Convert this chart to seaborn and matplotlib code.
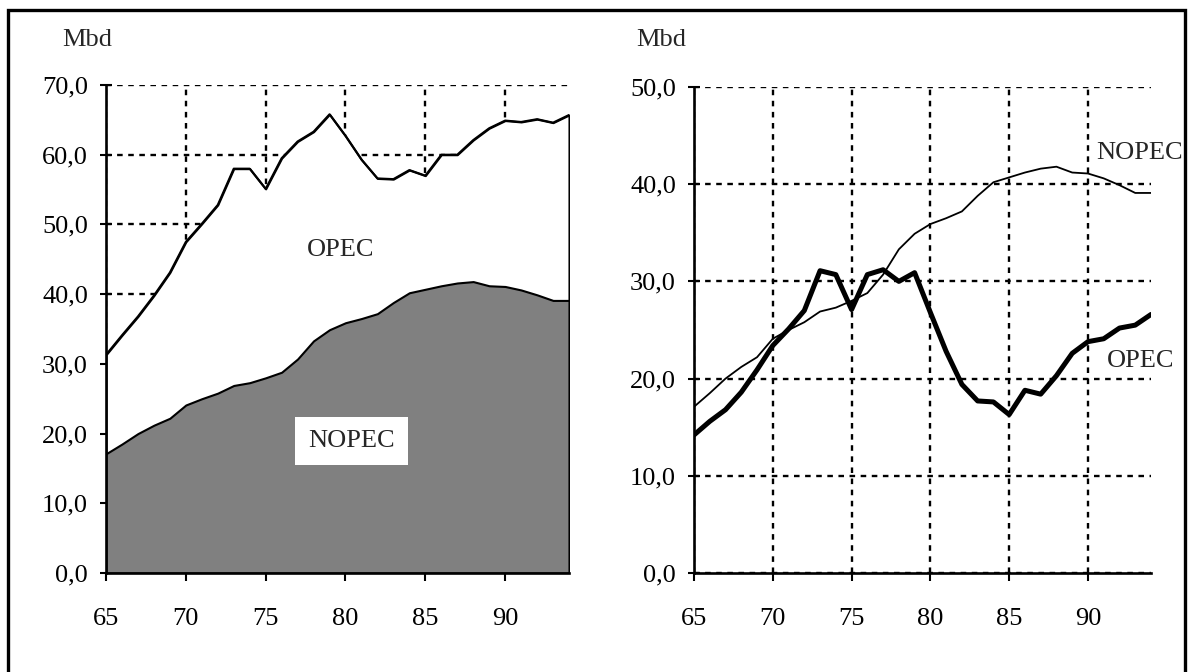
import os
import numpy as np
import pandas as pd
import matplotlib
matplotlib.use("Agg")
import matplotlib.pyplot as plt
import matplotlib.patches as mpatches
from matplotlib import font_manager
from matplotlib.ticker import FuncFormatter
import seaborn as sns

years = list(range(1965, 1995))
year_labels = ["65", "70", "75", "80", "85", "90"]
nopec = [17.1, 18.5, 20.0, 21.2, 22.2, 24.1, 25.0, 25.8, 26.9, 27.3,
         28.0, 28.8, 30.7, 33.3, 34.9, 35.9, 36.5, 37.2, 38.8, 40.2,
         40.7, 41.2, 41.6, 41.8, 41.2, 41.1, 40.6, 39.9, 39.1, 39.1]
opec = [14.2, 15.6, 16.8, 18.6, 20.9, 23.4, 25.1, 27.0, 31.1, 30.7,
        27.1, 30.7, 31.2, 30.0, 30.9, 26.8, 22.8, 19.4, 17.7, 17.6,
        16.3, 18.8, 18.4, 20.3, 22.6, 23.8, 24.1, 25.2, 25.5, 26.6]
unit_label = "Mbd"

df = pd.DataFrame({"year": years, "NOPEC": nopec, "OPEC": opec})
df["x"] = df["year"] - 1900
df["total"] = df["NOPEC"] + df["OPEC"]

sns.set_theme(style="white")

# register a Times-like serif explicitly
families = []
candidates = [
    "/usr/share/fonts/truetype/liberation/LiberationSerif-Regular.ttf",
    "/usr/share/fonts/truetype/liberation2/LiberationSerif-Regular.ttf",
    "/usr/share/fonts/truetype/google-fonts/Tinos-Regular.ttf",
]
for f in font_manager.findSystemFonts():
    base = os.path.basename(f)
    if base in ("LiberationSerif-Regular.ttf", "Tinos-Regular.ttf"):
        candidates.append(f)
for path in candidates:
    if os.path.exists(path):
        try:
            font_manager.fontManager.addfont(path)
            nm = font_manager.FontProperties(fname=path).get_name()
            if nm not in families:
                families.append(nm)
        except Exception:
            pass
families += ["Liberation Serif", "Tinos", "DejaVu Serif"]
plt.rcParams["font.family"] = families
plt.rcParams["lines.scale_dashes"] = False

W, H = 1189, 672
fig = plt.figure(figsize=(W / 100, H / 100), dpi=100)
fig.patch.set_facecolor("white")

def fx(px):
    return px / W

def fy(py):
    return 1 - py / H

axL = fig.add_axes([fx(106), fy(573), fx(569) - fx(106), fy(85) - fy(573)])
axR = fig.add_axes([fx(694), fy(573), fx(1151) - fx(694), fy(87) - fy(573)])

FS = 19
grid_kw = dict(color="black", linestyle=(0, (4.0, 4.0)), linewidth=1.7)
fmt = FuncFormatter(lambda v, p: f"{v:.1f}".replace(".", ","))

for ax, ymax in ((axL, 70), (axR, 50)):
    ax.set_facecolor("white")
    ax.set_xlim(65, 94)
    ax.set_ylim(0, ymax)
    ax.set_xticks([65, 70, 75, 80, 85, 90])
    ax.set_xticklabels(year_labels)
    ax.set_yticks(np.arange(0, ymax + 1, 10))
    ax.yaxis.set_major_formatter(fmt)
    ax.set_axisbelow(True)
    ax.grid(True, **grid_kw)
    for s in ("top", "right"):
        ax.spines[s].set_visible(False)
    for s in ("left", "bottom"):
        ax.spines[s].set_color("black")
        ax.spines[s].set_linewidth(1.9)
        ax.spines[s].set_zorder(6)
    ax.tick_params(axis="y", direction="inout", length=8, width=1.5,
                   colors="black", labelsize=FS, pad=9, left=True)
    ax.tick_params(axis="x", direction="out", length=6, width=1.5,
                   colors="black", labelsize=FS, pad=19, bottom=True)

# Left: stacked area
axL.fill_between(df["x"], df["total"], 0, facecolor="white",
                 edgecolor="black", linewidth=1.5, zorder=2)
axL.fill_between(df["x"], df["NOPEC"], 0, facecolor="#808080",
                 edgecolor="black", linewidth=1.5, zorder=3)
sns.lineplot(data=df, x="x", y="total", ax=axL, color="black",
             linewidth=1.5, zorder=4, legend=False)
axL.set_xlabel("")
axL.set_ylabel("")
axL.text(79.7, 46.3, "OPEC", fontsize=FS, ha="center", va="center", zorder=5)
axL.text(80.4, 18.9, "NOPEC", fontsize=FS, ha="center", va="center", zorder=5,
         bbox=dict(boxstyle="square,pad=0.5", facecolor="white", edgecolor="none"))

# Right: lines
sns.lineplot(data=df, x="x", y="NOPEC", ax=axR, color="black",
             linewidth=1.3, zorder=4, legend=False)
sns.lineplot(data=df, x="x", y="OPEC", ax=axR, color="black",
             linewidth=3.6, zorder=5, legend=False)
axR.set_xlabel("")
axR.set_ylabel("")
axR.text(90.5, 43.2, "NOPEC", fontsize=FS, ha="left", va="center", clip_on=False)
axR.text(91.2, 21.8, "OPEC", fontsize=FS, ha="left", va="center", clip_on=False)

fig.text(fx(87), fy(40), unit_label, fontsize=FS, ha="center", va="center")
fig.text(fx(661), fy(40), unit_label, fontsize=FS, ha="center", va="center")

border = mpatches.Rectangle((fx(8), -0.05), fx(1185) - fx(8), fy(10) + 0.05,
                            transform=fig.transFigure, fill=False,
                            edgecolor="black", linewidth=2.4, clip_on=False)
fig.patches.append(border)

fig.savefig("out.png", dpi=100, facecolor="white")
